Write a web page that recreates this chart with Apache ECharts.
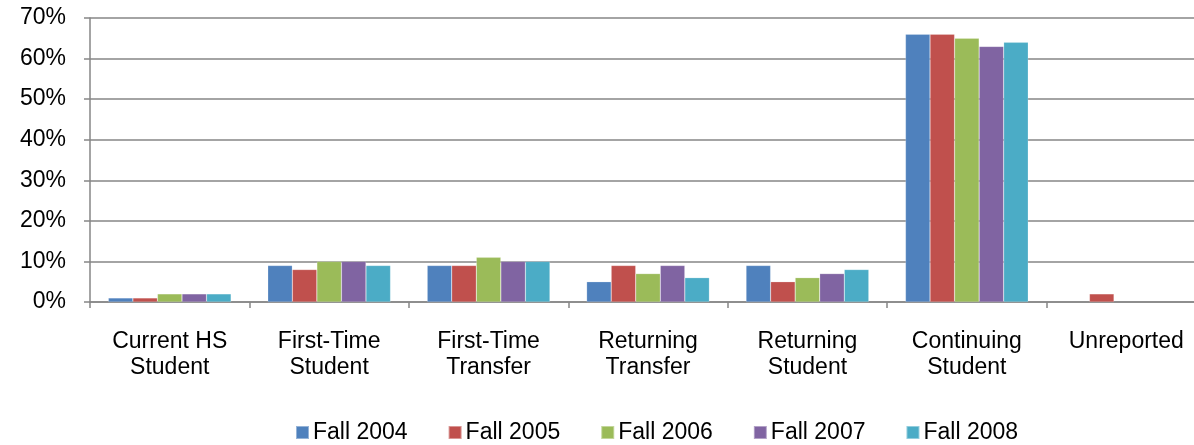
<!DOCTYPE html>
<html>
<head>
<meta charset="utf-8">
<script src="https://cdn.jsdelivr.net/npm/echarts@6/dist/echarts.min.js"></script>
<style>
  html, body { margin: 0; padding: 0; background: #fff; }
  #chart { width: 1194px; height: 445px; }
</style>
</head>
<body>
<div id="chart"></div>
<script>
// categories and values (percent)
var categories = ['Current HS\nStudent', 'First-Time\nStudent', 'First-Time\nTransfer', 'Returning\nTransfer', 'Returning\nStudent', 'Continuing\nStudent', 'Unreported'];
var fall2004 = [1, 9, 9, 5, 9, 66, 0];
var fall2005 = [1, 8, 9, 9, 5, 66, 2];
var fall2006 = [2, 10, 11, 7, 6, 65, 0];
var fall2007 = [2, 10, 10, 9, 7, 63, 0];
var fall2008 = [2, 9, 10, 6, 8, 64, 0];
var yTicks = [0, 10, 20, 30, 40, 50, 60, 70];

var seriesNames = ['Fall 2004', 'Fall 2005', 'Fall 2006', 'Fall 2007', 'Fall 2008'];
var seriesData = [fall2004, fall2005, fall2006, fall2007, fall2008];
var colors = ['#4f81bd', '#c0504d', '#9bbb59', '#8064a2', '#4bacc6'];

var myChart = echarts.init(document.getElementById('chart'));
var font = 'Liberation Sans, Arial, sans-serif';

var option = {
  animation: false,
  color: colors,
  // plot area runs past the right edge of the picture, as in the original
  grid: { left: 90, width: 1116, top: 18, bottom: 143, containLabel: false, outerBoundsMode: 'none' },
  legend: {
    bottom: -4,
    left: 290,
    itemWidth: 13,
    itemHeight: 13,
    itemGap: 40,
    icon: 'rect',
    textStyle: { fontFamily: font, fontSize: 23, color: '#000', padding: [0, 0, 0, -1] },
    data: seriesNames
  },
  xAxis: {
    type: 'category',
    data: categories,
    axisLine: { lineStyle: { color: '#868686', width: 1.5 } },
    axisTick: { show: true, length: 6, lineStyle: { color: '#868686', width: 1.5 } },
    axisLabel: {
      fontFamily: font, fontSize: 23, color: '#000', lineHeight: 26, margin: 27, interval: 0
    }
  },
  yAxis: {
    type: 'value',
    min: 0,
    max: yTicks[yTicks.length - 1],
    interval: 10,
    axisLine: { show: true, lineStyle: { color: '#868686', width: 1.5 } },
    axisTick: { show: true, length: 6, lineStyle: { color: '#868686', width: 1.5 } },
    splitLine: { lineStyle: { color: '#868686', width: 1.5 } },
    axisLabel: {
      fontFamily: font, fontSize: 23, color: '#000', margin: 24,
      formatter: function (v) { return v + '%'; }
    }
  },
  series: seriesData.map(function (d, i) {
    return {
      name: seriesNames[i],
      type: 'bar',
      data: d.map(function (v) { return v === 0 ? null : v; }),
      barGap: '0%',
      barCategoryGap: '23%',
      itemStyle: { borderColor: 'rgba(255,255,255,0.4)', borderWidth: 0.5 }
    };
  })
};
myChart.setOption(option);
</script>
</body>
</html>
